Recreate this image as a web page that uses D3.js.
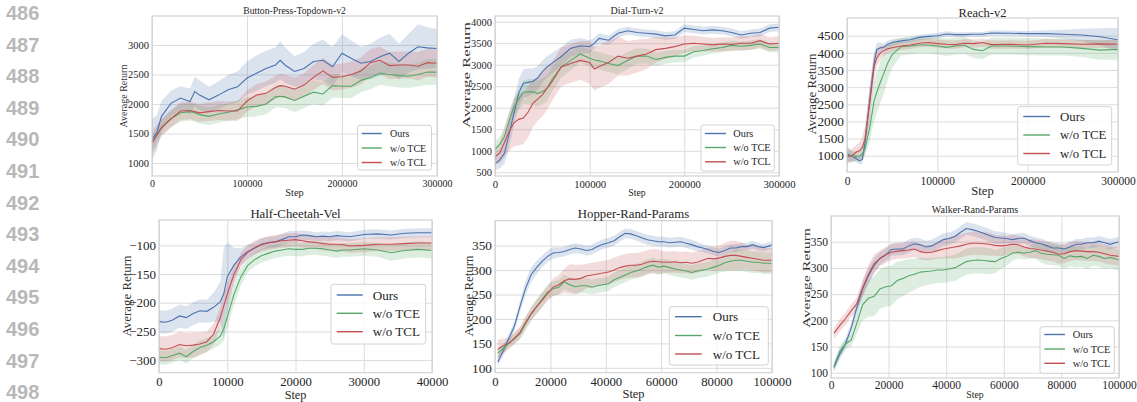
<!DOCTYPE html>
<html>
<head>
<meta charset="utf-8">
<script src="https://cdn.jsdelivr.net/npm/d3@7"></script>
<style>
  body { margin: 0; background: #fff; }
</style>
</head>
<body>
<div id="chart"></div>
<script>
// ---- data ----
var lineNumbers = [486, 487, 488, 489, 490, 491, 492, 493, 494, 495, 496, 497, 498];
var seriesNames = ["Ours", "w/o TCE", "w/o TCL"];
var seriesColors = ["#4c72b0", "#55a868", "#c44e52"];

// Button-Press-Topdown-v2
var buttonSteps = [0, 5000, 10000, 20000, 30000, 40000, 45000, 50000, 60000, 70000, 80000, 90000, 100000, 110000, 120000, 130000, 135000, 140000, 150000, 160000, 170000, 180000, 190000, 200000, 210000, 220000, 230000, 240000, 250000, 260000, 270000, 280000, 290000, 300000];
var buttonOurs = [1400, 1510, 1790, 2010, 2100, 2040, 2210, 2150, 2070, 2150, 2240, 2290, 2440, 2520, 2600, 2660, 2740, 2660, 2550, 2600, 2720, 2740, 2630, 2860, 2770, 2690, 2720, 2800, 2860, 2720, 2860, 2970, 2950, 2940];
var buttonOursSd = [350, 300, 260, 220, 200, 220, 250, 250, 220, 230, 250, 260, 280, 300, 300, 300, 320, 300, 260, 280, 300, 350, 330, 320, 300, 280, 300, 320, 330, 300, 330, 380, 350, 330];
var buttonTce = [1340, 1480, 1600, 1750, 1850, 1870, 1850, 1820, 1790, 1830, 1860, 1900, 1950, 1960, 2000, 2120, 2130, 2120, 2060, 2130, 2200, 2170, 2310, 2300, 2300, 2400, 2450, 2520, 2500, 2480, 2470, 2500, 2540, 2540];
var buttonTceSd = [120, 120, 130, 140, 150, 150, 150, 150, 150, 150, 150, 160, 170, 170, 180, 180, 190, 190, 200, 200, 200, 200, 200, 200, 200, 200, 200, 200, 200, 200, 200, 200, 220, 220];
var buttonTcl = [1340, 1470, 1600, 1750, 1880, 1890, 1870, 1850, 1870, 1890, 1880, 1880, 2050, 2150, 2180, 2280, 2310, 2300, 2250, 2320, 2450, 2560, 2450, 2460, 2500, 2560, 2700, 2740, 2650, 2660, 2660, 2640, 2700, 2690];
var buttonTclSd = [200, 180, 150, 150, 150, 150, 150, 150, 160, 160, 160, 170, 180, 190, 200, 200, 200, 200, 200, 200, 210, 220, 220, 220, 220, 230, 230, 230, 230, 230, 230, 240, 240, 240];

// Dial-Turn-v2
var dialSteps = [0, 5000, 10000, 15000, 20000, 25000, 30000, 35000, 40000, 45000, 50000, 55000, 60000, 70000, 80000, 90000, 100000, 105000, 110000, 120000, 130000, 140000, 150000, 160000, 170000, 180000, 190000, 200000, 210000, 220000, 230000, 240000, 250000, 260000, 270000, 280000, 290000, 300000];
var dialOurs = [695, 790, 940, 1400, 1870, 2340, 2570, 2590, 2610, 2690, 2840, 2950, 3030, 3190, 3380, 3440, 3420, 3500, 3610, 3570, 3730, 3790, 3750, 3730, 3710, 3670, 3690, 3850, 3820, 3790, 3810, 3790, 3750, 3690, 3730, 3750, 3850, 3870];
var dialOursSd = [150, 200, 250, 300, 300, 320, 330, 320, 300, 280, 260, 250, 240, 220, 200, 180, 150, 130, 120, 110, 100, 90, 90, 90, 90, 90, 90, 90, 90, 90, 90, 90, 90, 90, 90, 90, 90, 90];
var dialTce = [1040, 1150, 1330, 1700, 2020, 2200, 2360, 2370, 2370, 2330, 2380, 2450, 2650, 2950, 3100, 3250, 3150, 3110, 3090, 3030, 2980, 3100, 3200, 3200, 3120, 3170, 3200, 3200, 3300, 3330, 3370, 3400, 3450, 3430, 3450, 3480, 3400, 3400];
var dialTceSd = [200, 180, 180, 200, 220, 250, 280, 300, 300, 300, 300, 300, 280, 250, 220, 200, 200, 200, 200, 200, 200, 200, 180, 170, 160, 150, 150, 140, 130, 120, 110, 110, 110, 110, 110, 110, 110, 110];
var dialTcl = [860, 950, 1200, 1450, 1650, 1730, 1760, 1900, 2100, 2200, 2300, 2450, 2600, 2950, 3030, 3100, 3050, 2900, 2960, 3050, 3200, 3150, 3200, 3250, 3350, 3380, 3420, 3480, 3500, 3480, 3460, 3480, 3470, 3500, 3500, 3560, 3480, 3500];
var dialTclSd = [150, 250, 350, 450, 550, 600, 600, 600, 550, 500, 500, 500, 450, 450, 450, 450, 500, 500, 500, 500, 450, 400, 380, 350, 300, 250, 220, 200, 180, 170, 160, 160, 160, 160, 160, 160, 160, 160];

// Reach-v2
var reachSteps = [0, 5000, 10000, 14000, 17000, 20000, 25000, 30000, 33000, 37000, 40000, 45000, 50000, 60000, 70000, 80000, 90000, 100000, 110000, 120000, 130000, 140000, 150000, 160000, 180000, 200000, 220000, 240000, 260000, 280000, 300000];
var reachOurs = [1050, 1000, 920, 850, 900, 1400, 2600, 3700, 4100, 4150, 4150, 4250, 4300, 4350, 4380, 4450, 4480, 4500, 4550, 4530, 4530, 4540, 4540, 4580, 4570, 4560, 4560, 4540, 4520, 4470, 4380];
var reachOursSd = [250, 150, 100, 100, 150, 300, 400, 300, 200, 150, 120, 100, 100, 80, 80, 80, 80, 80, 80, 70, 70, 70, 70, 80, 80, 80, 100, 130, 180, 250, 350];
var reachTce = [1000, 990, 980, 990, 1050, 1200, 1800, 2600, 2850, 3150, 3350, 3700, 3950, 4180, 4200, 4230, 4230, 4200, 4160, 4200, 4220, 4100, 4060, 4200, 4200, 4180, 4170, 4170, 4130, 4080, 4100];
var reachTceSd = [150, 150, 150, 150, 150, 200, 400, 600, 600, 600, 600, 500, 400, 250, 250, 250, 250, 250, 250, 250, 250, 250, 250, 250, 250, 250, 250, 250, 250, 280, 300];
var reachTcl = [980, 990, 1100, 1150, 1250, 1500, 2500, 3600, 3850, 4000, 4050, 4120, 4150, 4200, 4230, 4280, 4300, 4270, 4250, 4240, 4280, 4270, 4300, 4240, 4250, 4230, 4280, 4270, 4250, 4260, 4250];
var reachTclSd = [200, 200, 200, 250, 300, 400, 500, 400, 250, 200, 150, 130, 120, 120, 120, 120, 120, 120, 120, 120, 120, 120, 120, 120, 120, 120, 120, 120, 120, 120, 120];

// Half-Cheetah-Vel
var cheetahSteps = [0, 1000, 2000, 3000, 4000, 5000, 6000, 7000, 8000, 9000, 9500, 10000, 11000, 12000, 13000, 14000, 15000, 16000, 17000, 18000, 19000, 20000, 21000, 22000, 23000, 24000, 25000, 26000, 27000, 28000, 30000, 32000, 34000, 36000, 38000, 40000];
var cheetahOurs = [-233, -234, -230, -223, -226, -219, -214, -215, -208, -198, -184, -155, -134, -120, -111, -105, -98, -95, -94, -90, -85, -85, -82, -83, -85, -84, -85, -83, -84, -85, -81, -80, -82, -79, -78, -78];
var cheetahOursSd = [20, 20, 20, 20, 20, 20, 20, 20, 25, 35, 80, 60, 30, 15, 12, 10, 10, 10, 10, 10, 10, 10, 8, 8, 8, 8, 8, 8, 8, 8, 8, 8, 8, 8, 8, 8];
var cheetahTce = [-295, -296, -292, -288, -294, -285, -278, -274, -268, -258, -245, -225, -185, -155, -135, -125, -118, -114, -110, -108, -106, -107, -107, -105, -105, -106, -108, -110, -108, -108, -106, -108, -113, -109, -107, -109];
var cheetahTceSd = [12, 12, 12, 12, 12, 12, 12, 12, 12, 15, 20, 20, 18, 15, 12, 12, 12, 12, 12, 12, 12, 12, 12, 12, 12, 12, 12, 12, 12, 12, 12, 12, 14, 14, 14, 14];
var cheetahTcl = [-280, -281, -278, -273, -275, -274, -272, -268, -255, -225, -205, -185, -150, -125, -112, -104, -99, -96, -94, -92, -91, -90, -92, -94, -95, -97, -98, -98, -99, -101, -100, -98, -98, -97, -96, -96];
var cheetahTclSd = [22, 22, 22, 22, 22, 22, 20, 18, 18, 18, 18, 18, 15, 12, 12, 12, 12, 12, 12, 12, 12, 12, 12, 12, 12, 12, 12, 12, 12, 12, 12, 12, 12, 12, 12, 12];

// Hopper-Rand-Params / Walker-Rand-Params share the same steps
var randSteps = [1000, 3000, 5000, 7000, 9000, 11000, 13000, 15000, 17000, 19000, 21000, 23000, 25000, 27000, 29000, 31000, 33000, 35000, 37000, 39000, 41000, 43000, 45000, 47000, 49000, 51000, 53000, 55000, 57000, 59000, 61000, 63000, 65000, 67000, 69000, 71000, 73000, 75000, 77000, 79000, 81000, 83000, 85000, 87000, 89000, 91000, 93000, 95000, 97000, 100000];

var hopperOurs = [112, 135, 160, 185, 225, 262, 290, 305, 318, 328, 335, 336, 338, 342, 345, 343, 340, 342, 348, 353, 356, 360, 368, 375, 374, 370, 366, 362, 360, 358, 358, 356, 357, 358, 355, 352, 348, 345, 342, 338, 336, 340, 345, 345, 348, 348, 352, 348, 346, 351];
var hopperOursSd = [8, 10, 10, 10, 12, 15, 15, 14, 12, 12, 12, 10, 10, 10, 10, 10, 10, 10, 10, 10, 10, 10, 10, 10, 10, 10, 10, 10, 10, 10, 10, 10, 10, 10, 10, 10, 10, 8, 8, 8, 8, 8, 8, 8, 8, 8, 8, 8, 8, 8];
var hopperTce = [130, 140, 150, 160, 170, 190, 210, 225, 240, 255, 262, 265, 276, 270, 266, 268, 268, 265, 268, 270, 272, 280, 285, 290, 295, 298, 302, 307, 310, 306, 308, 305, 302, 300, 298, 295, 298, 300, 302, 306, 310, 315, 318, 320, 320, 318, 316, 316, 314, 314];
var hopperTceSd = [10, 10, 10, 10, 12, 14, 15, 15, 15, 15, 15, 15, 15, 15, 15, 15, 15, 15, 15, 15, 15, 15, 15, 15, 15, 15, 15, 15, 15, 15, 15, 15, 15, 15, 15, 15, 15, 15, 15, 15, 15, 18, 20, 22, 22, 22, 22, 22, 22, 22];
var hopperTcl = [138, 145, 150, 160, 172, 192, 210, 225, 238, 252, 265, 270, 278, 282, 281, 283, 288, 290, 292, 294, 296, 300, 305, 308, 310, 310, 312, 316, 318, 317, 316, 316, 317, 315, 316, 314, 316, 320, 324, 323, 325, 328, 330, 330, 328, 326, 324, 322, 320, 320];
var hopperTclSd = [20, 15, 12, 12, 12, 12, 12, 15, 15, 15, 18, 20, 25, 30, 30, 28, 25, 25, 25, 25, 25, 25, 25, 25, 25, 25, 25, 25, 25, 25, 22, 22, 22, 22, 22, 22, 22, 22, 22, 25, 25, 28, 30, 30, 28, 25, 25, 25, 25, 25];

var walkerOurs = [110, 135, 155, 185, 225, 260, 285, 305, 318, 325, 335, 336, 336, 342, 346, 344, 340, 342, 348, 354, 356, 360, 368, 375, 373, 370, 366, 362, 358, 357, 356, 354, 356, 357, 352, 348, 346, 342, 338, 338, 336, 340, 345, 345, 348, 348, 351, 348, 345, 350];
var walkerOursSd = [8, 10, 10, 10, 12, 15, 15, 14, 12, 12, 12, 12, 12, 12, 12, 12, 12, 12, 12, 12, 12, 12, 12, 12, 12, 12, 12, 12, 12, 12, 10, 10, 10, 10, 10, 10, 10, 10, 10, 10, 10, 10, 10, 10, 10, 10, 10, 10, 10, 10];
var walkerTce = [112, 140, 155, 162, 195, 230, 242, 246, 260, 264, 266, 276, 280, 285, 288, 292, 293, 294, 296, 296, 298, 300, 306, 312, 314, 315, 314, 313, 312, 318, 322, 328, 330, 328, 330, 333, 328, 326, 325, 324, 318, 323, 321, 322, 318, 324, 322, 318, 320, 315];
var walkerTceSd = [8, 10, 10, 12, 20, 30, 35, 38, 38, 38, 38, 36, 34, 32, 30, 28, 26, 25, 25, 25, 25, 25, 25, 25, 25, 25, 25, 25, 22, 20, 18, 15, 12, 12, 12, 15, 18, 20, 20, 20, 20, 20, 20, 20, 20, 20, 20, 20, 20, 20];
var walkerTcl = [175, 190, 203, 218, 232, 262, 288, 308, 318, 325, 330, 332, 333, 334, 336, 331, 329, 330, 333, 336, 338, 340, 342, 345, 347, 347, 346, 345, 343, 342, 343, 345, 344, 340, 337, 336, 334, 332, 330, 326, 327, 331, 333, 332, 331, 331, 330, 327, 324, 322];
var walkerTclSd = [10, 12, 12, 12, 12, 15, 18, 18, 15, 15, 15, 15, 15, 15, 15, 15, 15, 15, 15, 18, 20, 22, 22, 22, 22, 22, 22, 22, 20, 20, 18, 18, 18, 18, 18, 18, 18, 18, 18, 18, 18, 18, 18, 18, 18, 18, 18, 18, 18, 18];

// ---- layout ----
var serif = '"Liberation Serif", "Times New Roman", serif';

var panels = [
  { title: "Button-Press-Topdown-v2", steps: buttonSteps,
    means: [buttonOurs, buttonTce, buttonTcl], sds: [buttonOursSd, buttonTceSd, buttonTclSd],
    left: 152, right: 437, top: 16, bottom: 176,
    xDomain: [0, 300000], xTicks: [0, 100000, 200000, 300000],
    yDomain: [780, 3490], yTicks: [1000, 1500, 2000, 2500, 3000],
    xTickSize: 10, yTickSize: 10.5, xPad: 4, fs: 9.7, xlabFs: 10.3,
    titleY: 13.5, xlabY: 196, ylabX: 123, ylabY: 96, ylabLen: null, ylabFs: 10,
    legend: { x: 357.5, y: 125.3, w: 74, h: 44.7, rows: [133.5, 148, 162.5], l0: 361.7, l1: 381.7, tx: 390 } },
  { title: "Dial-Turn-v2", steps: dialSteps,
    means: [dialOurs, dialTce, dialTcl], sds: [dialOursSd, dialTceSd, dialTclSd],
    left: 495, right: 779, top: 16, bottom: 176,
    xDomain: [0, 300000], xTicks: [0, 100000, 200000, 300000],
    yDomain: [414, 4132], yTicks: [500, 1000, 1500, 2000, 2500, 3000, 3500, 4000],
    xTickSize: 10.7, yTickSize: 10.5, xPad: 4, fs: 10, xlabFs: 9.8,
    titleY: 14, xlabY: 196, ylabX: 466, ylabY: 75, ylabLen: 106, ylabFs: 11,
    legend: { x: 701, y: 125, w: 73.3, h: 46, rows: [133.5, 147.5, 161.8], l0: 705, l1: 726, tx: 733.3 } },
  { title: "Reach-v2", steps: reachSteps,
    means: [reachOurs, reachTce, reachTcl], sds: [reachOursSd, reachTceSd, reachTclSd],
    left: 847, right: 1118, top: 18, bottom: 172,
    xDomain: [0, 300000], xTicks: [0, 100000, 200000, 300000],
    yDomain: [525, 5016], yTicks: [1000, 1500, 2000, 2500, 3000, 3500, 4000, 4500],
    xTickSize: 11.5, yTickSize: 13.3, xPad: 4.5, fs: 12.5, xlabFs: 12.6,
    titleY: 17, xlabY: 195, ylabX: 811, ylabY: 94, ylabLen: null, ylabFs: 12.9,
    legend: { x: 1017.7, y: 106.7, w: 94, h: 58.3, rows: [116.5, 135, 153.5], l0: 1023.3, l1: 1050, tx: 1060 } },
  { title: "Half-Cheetah-Vel", steps: cheetahSteps,
    means: [cheetahOurs, cheetahTce, cheetahTcl], sds: [cheetahOursSd, cheetahTceSd, cheetahTclSd],
    left: 159, right: 432, top: 220, bottom: 372.7,
    xDomain: [0, 40000], xTicks: [0, 10000, 20000, 30000, 40000],
    yDomain: [-322, -55.8], yTicks: [-300, -250, -200, -150, -100],
    xTickSize: 12.7, yTickSize: 13, xPad: 4, fs: 12.8, xlabFs: 12.2,
    titleY: 218, xlabY: 398.5, ylabX: 126, ylabY: 296, ylabLen: null, ylabFs: 12.9,
    legend: { x: 331, y: 284.3, w: 94.7, h: 59.7, rows: [295, 313.3, 331.7], l0: 336.7, l1: 362.7, tx: 372.7 } },
  { title: "Hopper-Rand-Params", steps: randSteps,
    means: [hopperOurs, hopperTce, hopperTcl], sds: [hopperOursSd, hopperTceSd, hopperTclSd],
    left: 495, right: 772, top: 220.7, bottom: 372.7,
    xDomain: [0, 100000], xTicks: [0, 20000, 40000, 60000, 80000, 100000],
    yDomain: [90, 401], yTicks: [100, 150, 200, 250, 300, 350],
    xTickSize: 12.7, yTickSize: 13.3, xPad: 4, fs: 12.8, xlabFs: 12.4,
    titleY: 218, xlabY: 398, ylabX: 468, ylabY: 296, ylabLen: null, ylabFs: 12.9,
    legend: { x: 669.3, y: 306.7, w: 99, h: 58.3, rows: [316.7, 335.5, 354], l0: 675, l1: 701.7, tx: 712.7 } },
  { title: "Walker-Rand-Params", steps: randSteps,
    means: [walkerOurs, walkerTce, walkerTcl], sds: [walkerOursSd, walkerTceSd, walkerTclSd],
    left: 831, right: 1119, top: 216, bottom: 378,
    xDomain: [0, 100000], xTicks: [0, 20000, 40000, 60000, 80000, 100000],
    yDomain: [90, 399], yTicks: [100, 150, 200, 250, 300, 350],
    xTickSize: 11.5, yTickSize: 11.5, xPad: 3, fs: 10.1, xlabFs: 9.8,
    titleY: 213, xlabY: 397.5, ylabX: 806, ylabY: 278, ylabLen: 100, ylabFs: 11,
    legend: { x: 1040, y: 326.7, w: 74.3, h: 46.6, rows: [334.5, 349, 363.3], l0: 1044.3, l1: 1065, tx: 1072.7 } }
];

var svg = d3.select("#chart").append("svg")
  .attr("width", 1137)
  .attr("height", 402)
  .style("font-family", serif);

// manuscript line numbers on the left margin
svg.selectAll("text.lineno")
  .data(lineNumbers)
  .enter().append("text")
  .attr("class", "lineno")
  .attr("x", 6)
  .attr("y", function (d, i) { return 20 + i * 31.6; })
  .style("font-family", '"Liberation Sans", Arial, sans-serif')
  .style("font-weight", "bold")
  .style("font-size", "20px")
  .style("fill", "#b8b8b8")
  .text(function (d) { return d; });

function drawPanel(p, idx) {
  var x = d3.scaleLinear().domain(p.xDomain).range([p.left, p.right]);
  var y = d3.scaleLinear().domain(p.yDomain).range([p.bottom, p.top]);
  var g = svg.append("g");

  g.append("clipPath").attr("id", "clip" + idx)
    .append("rect")
    .attr("x", p.left).attr("y", p.top)
    .attr("width", p.right - p.left).attr("height", p.bottom - p.top);

  // grid + tick labels
  var xAxis = g.append("g")
    .attr("transform", "translate(0," + p.bottom + ")")
    .call(d3.axisBottom(x).tickValues(p.xTicks).tickFormat(d3.format("d"))
      .tickSize(-(p.bottom - p.top)).tickPadding(p.xPad));
  var yAxis = g.append("g")
    .attr("transform", "translate(" + p.left + ",0)")
    .call(d3.axisLeft(y).tickValues(p.yTicks).tickFormat(d3.format("d"))
      .tickSize(-(p.right - p.left)).tickPadding(3));
  [xAxis, yAxis].forEach(function (a) {
    a.select(".domain").remove();
    a.selectAll(".tick line").attr("stroke", "#dcdcdc").attr("stroke-width", 1);
    a.selectAll(".tick text").attr("fill", "#262626").style("font-family", serif);
  });
  xAxis.selectAll(".tick text").style("font-size", p.xTickSize + "px");
  yAxis.selectAll(".tick text").style("font-size", p.yTickSize + "px");

  // bands then lines
  var plot = g.append("g").attr("clip-path", "url(#clip" + idx + ")");
  p.means.forEach(function (m, s) {
    var sd = p.sds[s];
    var area = d3.area()
      .x(function (d, i) { return x(p.steps[i]); })
      .y0(function (d, i) { return y(d - sd[i]); })
      .y1(function (d, i) { return y(d + sd[i]); });
    plot.append("path").datum(m)
      .attr("d", area)
      .attr("fill", seriesColors[s])
      .attr("fill-opacity", 0.2);
  });
  p.means.forEach(function (m, s) {
    var line = d3.line()
      .x(function (d, i) { return x(p.steps[i]); })
      .y(function (d) { return y(d); });
    plot.append("path").datum(m)
      .attr("d", line)
      .attr("fill", "none")
      .attr("stroke", seriesColors[s])
      .attr("stroke-width", 1.1);
  });

  // spines
  g.append("rect")
    .attr("x", p.left).attr("y", p.top)
    .attr("width", p.right - p.left).attr("height", p.bottom - p.top)
    .attr("fill", "none").attr("stroke", "#d2d2d2").attr("stroke-width", 1.2);

  // title and axis labels
  g.append("text")
    .attr("x", (p.left + p.right) / 2).attr("y", p.titleY)
    .attr("text-anchor", "middle")
    .style("font-size", p.fs + "px").style("fill", "#262626")
    .text(p.title);
  g.append("text")
    .attr("x", (p.left + p.right) / 2).attr("y", p.xlabY)
    .attr("text-anchor", "middle")
    .style("font-size", p.xlabFs + "px").style("fill", "#262626")
    .text("Step");
  var yl = g.append("text")
    .attr("transform", "translate(" + p.ylabX + "," + p.ylabY + ") rotate(-90)")
    .attr("text-anchor", "middle")
    .attr("dy", "0.35em")
    .style("font-size", p.ylabFs + "px").style("fill", "#333")
    .text("Average Return");
  if (p.ylabLen) {
    yl.attr("textLength", p.ylabLen).attr("lengthAdjust", "spacingAndGlyphs");
  }

  // legend
  var L = p.legend;
  var lg = g.append("g");
  lg.append("rect")
    .attr("x", L.x).attr("y", L.y).attr("width", L.w).attr("height", L.h)
    .attr("rx", 2.5)
    .attr("fill", "#fff").attr("fill-opacity", 0.8)
    .attr("stroke", "#d2d2d2").attr("stroke-width", 1);
  seriesNames.forEach(function (name, s) {
    lg.append("line")
      .attr("x1", L.l0).attr("x2", L.l1)
      .attr("y1", L.rows[s]).attr("y2", L.rows[s])
      .attr("stroke", seriesColors[s]).attr("stroke-width", 1.4);
    lg.append("text")
      .attr("x", L.tx).attr("y", L.rows[s]).attr("dy", "0.35em")
      .style("font-size", (p.fs + 0.3) + "px").style("fill", "#262626")
      .text(name);
  });
}

panels.forEach(drawPanel);
</script>
</body>
</html>
